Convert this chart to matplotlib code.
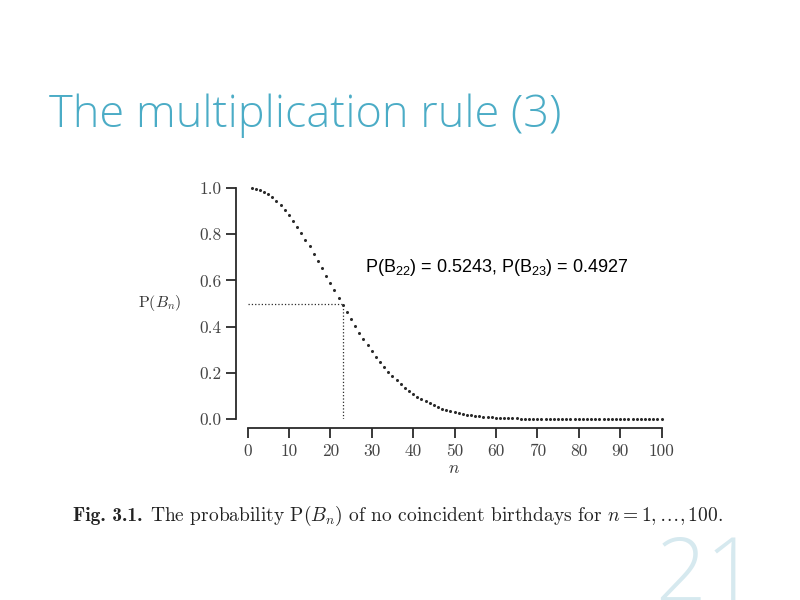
import numpy as np
import matplotlib
matplotlib.use("Agg")
import matplotlib.pyplot as plt

# P(B_n): probability of no coincident birthdays
n_values = list(range(1, 101))
p_values = [
    1.0000, 0.9973, 0.9918, 0.9836, 0.9729, 0.9595, 0.9438, 0.9257, 0.9054, 0.8831,
    0.8589, 0.8330, 0.8056, 0.7769, 0.7471, 0.7164, 0.6850, 0.6531, 0.6209, 0.5886,
    0.5563, 0.5243, 0.4927, 0.4617, 0.4313, 0.4018, 0.3731, 0.3455, 0.3190, 0.2937,
    0.2695, 0.2467, 0.2250, 0.2047, 0.1856, 0.1678, 0.1513, 0.1359, 0.1218, 0.1088,
    0.0968, 0.0860, 0.0761, 0.0671, 0.0590, 0.0518, 0.0452, 0.0394, 0.0342, 0.0296,
    0.0256, 0.0220, 0.0189, 0.0161, 0.0137, 0.0116, 0.0099, 0.0083, 0.0070, 0.0059,
    0.0049, 0.0041, 0.0034, 0.0028, 0.0023, 0.0019, 0.0016, 0.0013, 0.0010, 0.0008,
    0.0007, 0.0006, 0.0004, 0.0004, 0.0003, 0.0002, 0.0002, 0.0001, 0.0001, 0.0001,
    0.0001, 0.0000, 0.0000, 0.0000, 0.0000, 0.0000, 0.0000, 0.0000, 0.0000, 0.0000,
    0.0000, 0.0000, 0.0000, 0.0000, 0.0000, 0.0000, 0.0000, 0.0000, 0.0000, 0.0000,
]
x_ticks = [0, 10, 20, 30, 40, 50, 60, 70, 80, 90, 100]
y_ticks = [0.0, 0.2, 0.4, 0.6, 0.8, 1.0]
n_half = 23
p_half = 0.5

title = "The multiplication rule (3)"
note = r"P(B$_{22}$) = 0.5243, P(B$_{23}$) = 0.4927"
caption_head = "Fig. 3.1."
caption_body = (r"The probability P$(B_n)$ of no coincident "
                r"birthdays for $n = 1, \ldots, 100$.")
page = "21"

plt.rcParams["mathtext.rm"] = "Liberation Sans"
plt.rcParams["mathtext.it"] = "Liberation Sans:italic"

ink = "#2a2a2a"
fig = plt.figure(figsize=(8, 6), dpi=100)
ax = fig.add_axes([247.5 / 800, 1 - 419 / 600, 414 / 800, 231 / 600])

ax.plot(n_values, p_values, linestyle="none", marker="o", ms=1.2,
        color=ink, clip_on=False)
ax.plot([0, n_half], [p_half, p_half], linestyle=":", lw=0.9, color=ink)
ax.plot([n_half, n_half], [0, p_half], linestyle=":", lw=0.9, color=ink)

ax.set_xlim(0, 100)
ax.set_ylim(0, 1)
ax.set_xticks(x_ticks)
ax.set_yticks(y_ticks)
ax.set_yticklabels([f"{v:.1f}" for v in y_ticks])
for side in ["top", "right"]:
    ax.spines[side].set_visible(False)
ax.spines["left"].set_position(("outward", 8))
ax.spines["bottom"].set_position(("outward", 6.5))
ax.spines["left"].set_bounds(0, 1)
ax.spines["bottom"].set_bounds(0, 100)
for side in ["left", "bottom"]:
    ax.spines[side].set_linewidth(1.3)
    ax.spines[side].set_color(ink)
ax.tick_params(direction="out", length=7, width=1.3, color=ink,
               labelcolor="#444444", labelsize=12.5)
ax.tick_params(axis="y", pad=3.5)
ax.tick_params(axis="x", pad=4)
for lab in ax.get_xticklabels() + ax.get_yticklabels():
    lab.set_fontfamily("cmr10")

fig.text(160 / 800, 1 - 303 / 600, r"$\mathrm{P}(B_n)$", ha="center", va="center",
         fontsize=11.5, color="#333333", math_fontfamily="cm")
fig.text(454 / 800, 1 - 468 / 600, r"$n$", ha="center", va="center",
         fontsize=12.5, color="#333333", math_fontfamily="cm")

# caption: bold head, then the rest on the same baseline right after it
cap_y = 1 - 521 / 600
head = fig.text(73 / 800, cap_y, caption_head, ha="left", va="baseline",
                fontsize=14, family="cmb10", color="#222222")
fig.canvas.draw()
head_end = head.get_window_extent().x1
fig.text((head_end + 7) / 800, cap_y, caption_body, ha="left", va="baseline",
         fontsize=14, family="cmr10", color="#222222", math_fontfamily="cm")

fig.text(365 / 800, 1 - 268 / 600, note, ha="left", va="center",
         fontsize=13, family="Liberation Sans", color="black",
         math_fontfamily="custom")

fig.text(49 / 800, 1 - 116 / 600, title, ha="left", va="center",
         fontsize=32.5, family="Open Sans", fontweight="light", color="#4bacc6")
fig.text(706 / 800, 1 - 578 / 600, page, ha="center", va="center",
         fontsize=64, family="Open Sans", fontweight="light", color="#d6e9ef")

fig.savefig("out.png", dpi=100)
